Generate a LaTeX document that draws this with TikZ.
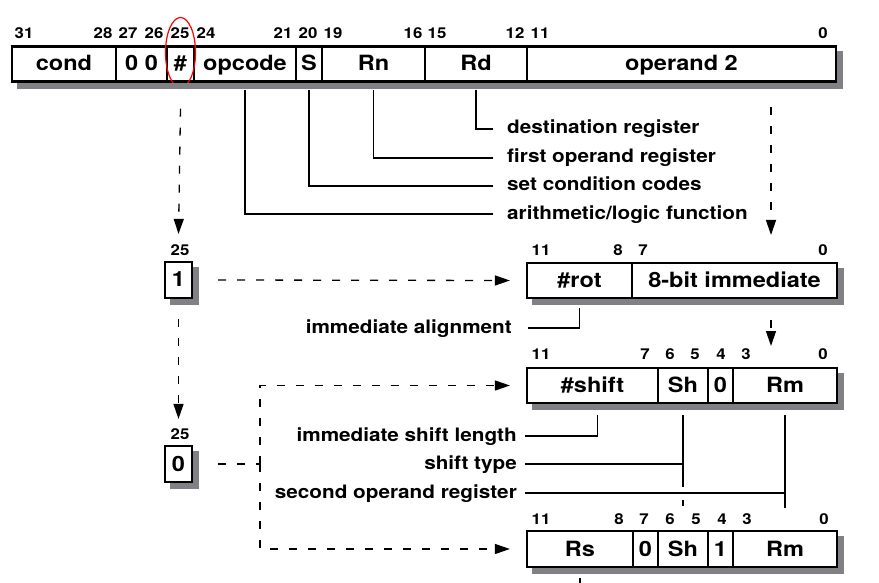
\documentclass[tikz,border=0pt]{standalone}
\usepackage{fontspec}
\setmainfont[FakeStretch=1.12]{TeX Gyre Heros}
\usetikzlibrary{arrows.meta}
\definecolor{shadowgray}{rgb}{0.5,0.5,0.52}

\begin{document}
\begin{tikzpicture}[x=1pt,y=-1pt,
    field/.style={draw,line width=2.2pt,fill=white,inner sep=0pt,minimum height=35pt,text height=15pt,text depth=1pt,font=\fontsize{21}{21}\selectfont\bfseries},
    bit/.style={inner sep=0pt,font=\fontsize{15}{15}\selectfont\bfseries},
    note/.style={inner sep=0pt,text height=10pt,text depth=0pt,font=\fontsize{18.5}{19}\selectfont\bfseries},
    pointer/.style={line width=1.3pt},
    dashline/.style={line width=1.3pt,dash pattern=on 8pt off 11pt,-{Triangle[length=15pt,width=10pt]}},
    boxshadow/.style={fill=shadowgray,draw=none}]
    \useasboundingbox (0,0) rectangle (879,583);

    % instruction word
    \node[field, minimum width=104pt] at (64, 64) (cond) {cond};
    \node[field, minimum width=51pt] at (141.5, 64) (zz) {0 0};
    \node[field, minimum width=27pt] at (180.5, 64) (hash) {\#};
    \node[field, minimum width=102pt] at (245, 64) (opcode) {opcode};
    \node[field, minimum width=26pt] at (309, 64) (sbit) {S};
    \node[field, minimum width=103pt] at (373.5, 64) (rn) {Rn};
    \node[field, minimum width=102pt] at (476, 64) (rd) {Rd};
    \node[field, minimum width=309pt] at (681.5, 64) (optwo) {operand 2};
    \foreach \x/\b in {24/31,103/28,128/27,154/26,180/25,206/24,283/21,308/20,333/19,413/16,437/15,515/12,540/11,823/0}
        \node[bit] at (\x, 33) (t\b) {\b};
    \draw[red, line width=1.2pt] (180.5, 52.5) ellipse (15 and 35);

    \node[note, anchor=west] at (507, 129) (dest) {destination register};
    \node[note, anchor=west] at (507, 158) (first) {first operand register};
    \node[note, anchor=west] at (507, 186) (setcc) {set condition codes};
    \node[note, anchor=west] at (507, 214) (arith) {arithmetic/logic function};
    \draw[pointer] (rd.south) ++(0,7) |- ([xshift=-14pt]dest.west);
    \draw[pointer] (rn.south) ++(0,7) |- ([xshift=-14pt]first.west);
    \draw[pointer] (sbit.south) ++(0,7) |- ([xshift=-14pt]setcc.west);
    \draw[pointer] (opcode.south) ++(0,7) |- ([xshift=-14pt]arith.west);

    % immediate operand
    \node[field, minimum width=27pt, minimum height=36pt] at (178.5, 280) (one) {1};
    \node[bit] at (180, 250) (ia) {25};
    \node[field, minimum width=105pt] at (579.5, 280.5) (rot) {\#rot};
    \node[field, minimum width=205pt] at (734.5, 280.5) (imm) {8-bit immediate};
    \foreach \x/\b in {541/11,618/8,643/7,823/0}
        \node[bit] at (\x, 250) (a\b) {\b};
    \node[note, anchor=east] at (512, 328) (align) {immediate alignment};
    \draw[pointer] (rot.south) ++(0,9) |- ([xshift=16pt]align.east);

    % register operand
    \node[field, minimum width=27pt, minimum height=36pt] at (178.5, 464) (zero) {0};
    \node[bit] at (180, 434) (ib) {25};
    \node[field, minimum width=131pt] at (592.5, 385.5) (shift) {\#shift};
    \node[field, minimum width=50pt] at (683, 385.5) (sh) {Sh};
    \node[field, minimum width=25pt] at (720.5, 385.5) (zb) {0};
    \node[field, minimum width=104pt] at (785, 385.5) (rm) {Rm};
    \foreach \x/\b in {541/11,645/7,670/6,695/5,721/4,746/3,823/0}
        \node[bit] at (\x, 354) (b\b) {\b};

    \node[field, minimum width=106pt, minimum height=36pt] at (580, 549) (rs) {Rs};
    \node[field, minimum width=25pt, minimum height=36pt] at (645.5, 549) (zc) {0};
    \node[field, minimum width=50pt, minimum height=36pt] at (683, 549) (shc) {Sh};
    \node[field, minimum width=25pt, minimum height=36pt] at (720.5, 549) (onec) {1};
    \node[field, minimum width=104pt, minimum height=36pt] at (785, 549) (rmc) {Rm};
    \foreach \x/\b in {541/11,619/8,644/7,670/6,696/5,722/4,747/3,824/0}
        \node[bit] at (\x, 519) (c\b) {\b};

    \node[note, anchor=east] at (517, 436) (shlen) {immediate shift length};
    \node[note, anchor=east] at (517, 464) (shtype) {shift type};
    \node[note, anchor=east] at (517, 493) (secop) {second operand register};
    \draw[pointer] ([xshift=5pt]shift.south) ++(0,11) |- ([xshift=8pt]shlen.east);
    \draw[pointer] ([yshift=-11pt]sh.south) -- ([yshift=-83pt]sh.south)
        ([yshift=-11pt]sh.south) |- ([xshift=8pt]shtype.east);
    \draw[pointer] ([yshift=24pt]shc.north) -- ([yshift=30pt]shc.north);
    \draw[pointer] ([yshift=-11pt]rm.south) -- ([yshift=-104pt]rm.south)
        ([yshift=-11pt]rm.south) |- ([xshift=8pt]secop.east);
    \draw[pointer] ([yshift=-10pt]rs.south) -- ++(0,12);

    % shadows, as strips below and right of each box row
    \foreach \l/\r in {cond/optwo,rot/imm,shift/rm,rs/rmc,one/one,zero/zero} {
        \fill[boxshadow] ([xshift=6pt]\l.south west) rectangle ([xshift=6pt,yshift=-6pt]\r.south east);
        \fill[boxshadow] ([yshift=-6pt]\r.north east) rectangle ([xshift=6pt,yshift=-6pt]\r.south east);
    }

    % dashed routes
    \coordinate (opsrc) at (771, 107);
    \coordinate (opdst) at (771, 235);
    \coordinate (immsrc) at (771, 320);
    \coordinate (immdst) at (771, 346);
    \coordinate (fork) at (260, 464);
    \draw[dashline] ([yshift=-26pt]hash.south) -- ([yshift=27pt]one.north);
    \draw[dashline] (opsrc) -- (opdst);
    \draw[dashline] ([xshift=25pt]one.east) -- ([xshift=-16pt]rot.west);
    \draw[dashline] (immsrc) -- (immdst);
    \draw[dashline] ([yshift=-20pt]one.south) -- ([yshift=26pt]zero.north);
    \draw[dashline, -] ([xshift=25pt]zero.east) -- (fork);
    \draw[dashline] (fork) |- ([xshift=-16pt]shift.west);
    \draw[dashline] (fork) |- ([xshift=-16pt]rs.west);
\end{tikzpicture}
\end{document}
